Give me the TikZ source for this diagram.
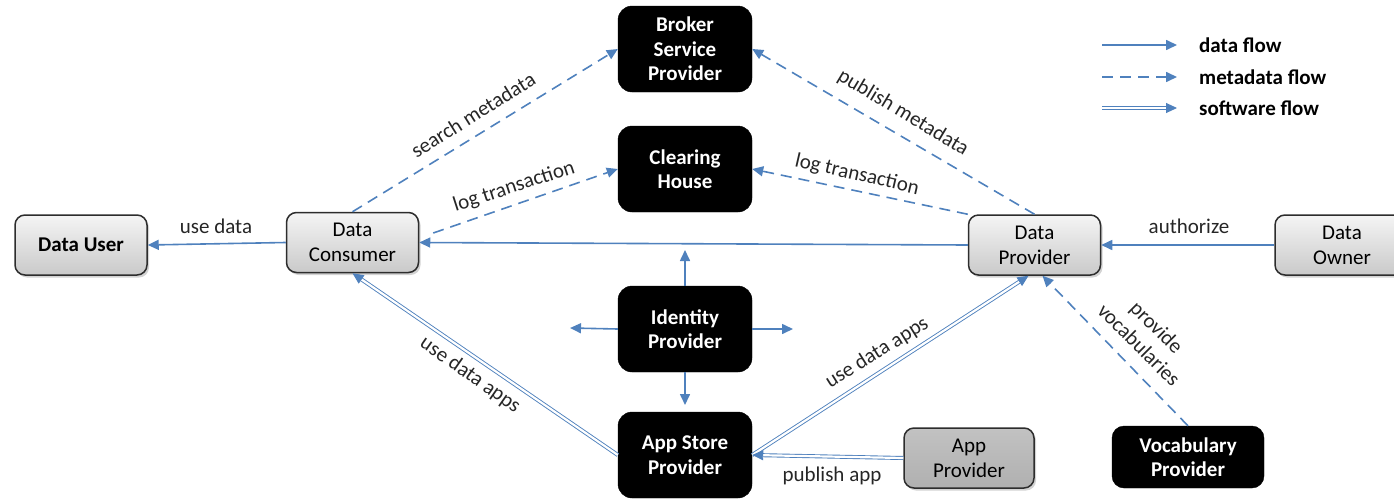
\documentclass[tikz,border=0pt]{standalone}
\usepackage{fontspec}
\setmainfont{Carlito}
\usetikzlibrary{arrows.meta,shadows}
\definecolor{flowblue}{RGB}{79,129,189}
\definecolor{boxline}{RGB}{45,45,45}
\begin{document}
\begin{tikzpicture}[x=1pt,y=-1pt,
  graybox/.style={draw=boxline, line width=1.5pt, rounded corners=10pt,
    top color=gray!8, bottom color=gray!42, minimum width=132pt, minimum height=60pt,
    inner sep=2pt, align=center, font=\fontsize{21}{25}\selectfont,
    drop shadow={shadow xshift=2pt, shadow yshift=-2.5pt, opacity=0.35}},
  appbox/.style={graybox, top color=gray!48, bottom color=gray!62},
  blackbox/.style={fill=black, draw=black, rounded corners=14pt, minimum width=134pt,
    minimum height=86pt, text=white, inner sep=2pt, align=center,
    font=\bfseries\fontsize{21}{24.5}\selectfont},
  flow/.style={draw=flowblue, line width=1.6pt, -{Triangle[length=11pt,width=10pt]}},
  meta/.style={flow, dash pattern=on 11pt off 7pt},
  soft/.style={draw=flowblue, line width=0.9pt, double=white, double distance=2.2pt,
    -{Triangle[length=11pt,width=10pt]}},
  lbl/.style={font=\fontsize{21}{25}\selectfont, inner sep=1pt, text=black!85},
  leg/.style={font=\bfseries\fontsize{21}{25}\selectfont, anchor=west, inner sep=1pt}
]
\useasboundingbox (0,0) rectangle (1394,498);

% nodes
\node[graybox, font=\bfseries\fontsize{21}{25}\selectfont] (user) at (81,245) {Data User};
\node[graybox] (consumer) at (352.5,242.5) {Data\\Consumer};
\node[blackbox] (broker) at (685,49) {Broker\\Service\\Provider};
\node[blackbox] (clearing) at (685,169) {Clearing\\House};
\node[blackbox] (identity) at (685,329) {Identity\\Provider};
\node[blackbox] (appstore) at (685,455) {App Store\\Provider};
\node[graybox] (dprov) at (1034.5,245) {Data\\Provider};
\node[graybox, minimum width=134pt] (owner) at (1342,245) {Data\\Owner};
\node[appbox, minimum width=130pt] (appprov) at (969,458) {App\\Provider};
\node[blackbox, minimum width=152pt, minimum height=62pt, rounded corners=12pt] (vocab) at (1188,457) {Vocabulary\\Provider};

% data flows
\draw[flow] (consumer.west) -- (user.east);
\draw[flow] (dprov.west) -- (consumer.east);
\draw[flow] (owner.west) -- (dprov.east);

% metadata flows
\draw[meta] (consumer.north) -- (broker.west);
\draw[meta] ([shift={(14,-9.5)}]consumer.east) -- (clearing.west);
\draw[meta] (dprov.north) -- (broker.east);
\draw[meta] (dprov.north west) -- (clearing.east);
\draw[meta] (vocab.north) -- ([xshift=8pt]dprov.south);

% software flows
\draw[soft] (appstore.west) -- (consumer.south);
\draw[soft] (appstore.east) -- ([xshift=-6pt]dprov.south);
\draw[soft] (appprov.west) -- (appstore.east);

% identity provider arrows
\coordinate (idup) at (685,250);
\coordinate (iddown) at (685,405);
\coordinate (idleft) at (570,328);
\coordinate (idright) at (793,329);
\draw[flow] (identity.north) -- (idup);
\draw[flow] (identity.south) -- (iddown);
\draw[flow] (identity.west) -- (idleft);
\draw[flow] (identity.east) -- (idright);

% labels
\node[lbl] (lusedata) at (216,226) {use data};
\node[lbl, rotate=32] (lsearch) at (473,115) {search metadata};
\node[lbl, rotate=18] (llogl) at (514,187) {log transaction};
\node[lbl, rotate=-31] (lpublish) at (903,113) {publish metadata};
\node[lbl, rotate=-13] (llogr) at (857,175) {log transaction};
\node[lbl] (lauth) at (1189,226) {authorize};
\node[lbl, rotate=-35] (lappsl) at (470,375) {use data apps};
\node[lbl, rotate=32] (lappsr) at (877,353) {use data apps};
\node[lbl] (lpubapp) at (832,476) {publish app};
\node[lbl, rotate=-45, align=center] (lvocab) at (1148,336) {provide\\vocabularies};

% legend
\coordinate (l1a) at (1102,45);  \coordinate (l1b) at (1177,45);
\coordinate (l2a) at (1102,77);  \coordinate (l2b) at (1177,77);
\coordinate (l3a) at (1102,108); \coordinate (l3b) at (1177,108);
\draw[flow] (l1a) -- (l1b);
\draw[meta] (l2a) -- (l2b);
\draw[soft] (l3a) -- (l3b);
\node[leg] (t1) at (1198,45) {data flow};
\node[leg] (t2) at (1198,77) {metadata flow};
\node[leg] (t3) at (1198,108) {software flow};
\end{tikzpicture}
\end{document}
